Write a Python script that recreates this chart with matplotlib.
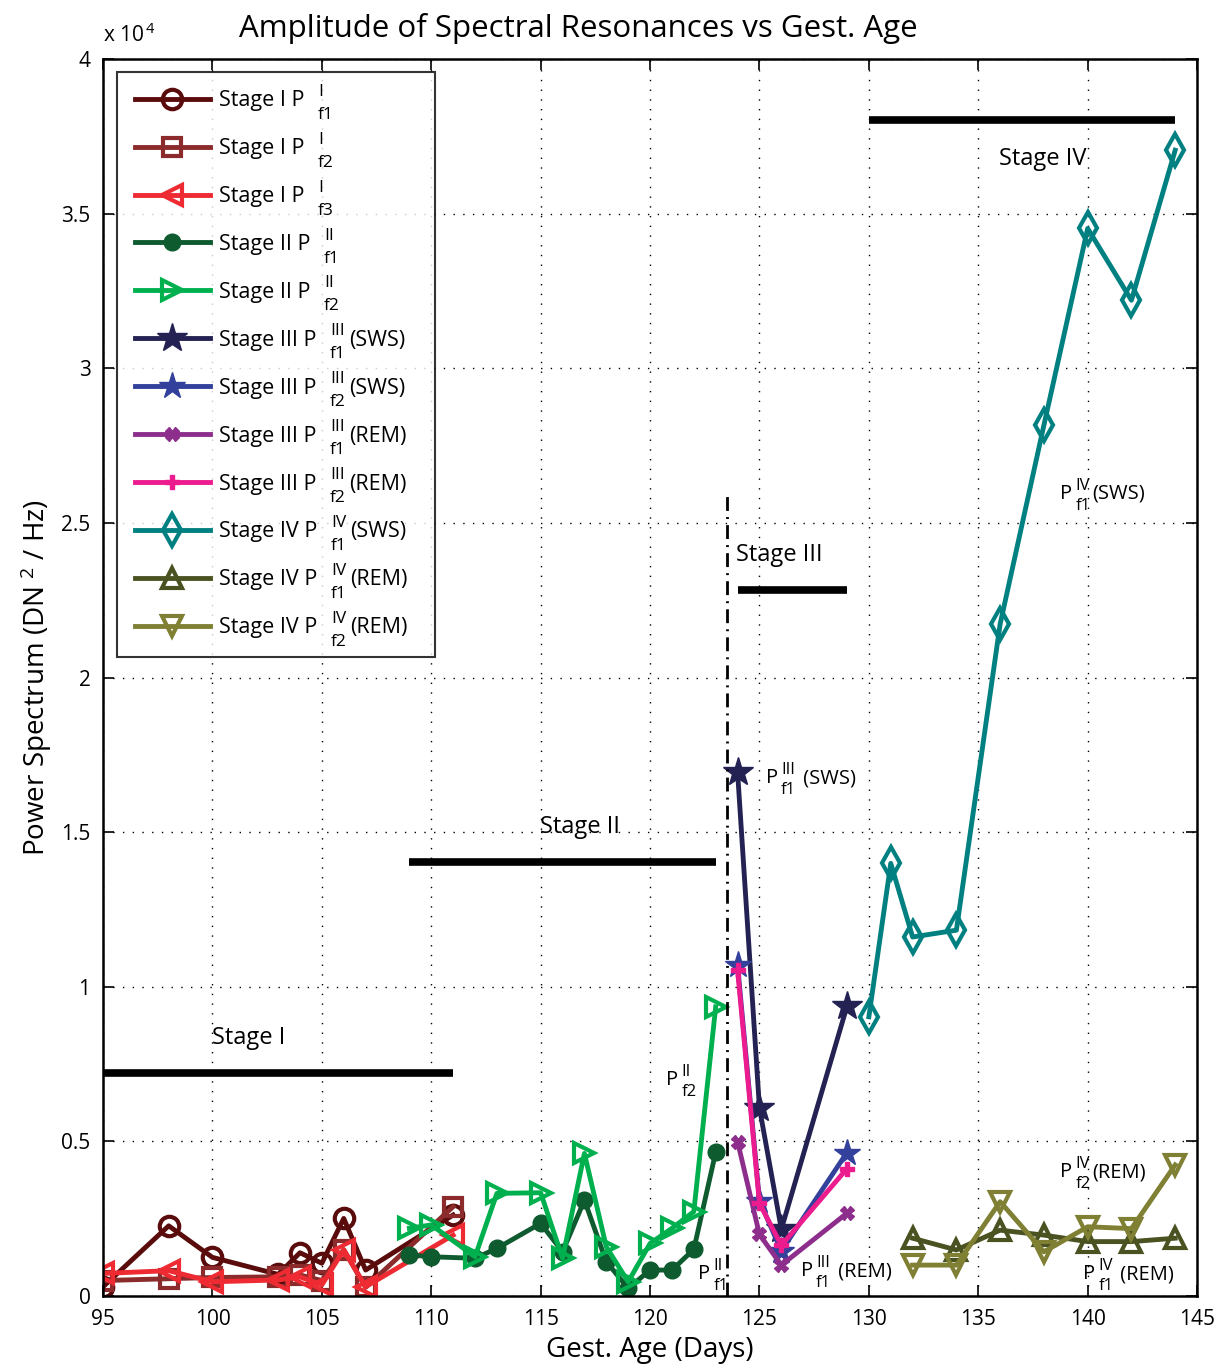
import numpy as np
import matplotlib
matplotlib.use('Agg')
import matplotlib.pyplot as plt
from matplotlib.ticker import FuncFormatter, MultipleLocator
from matplotlib.transforms import IdentityTransform

plt.rcParams['font.family'] = ['Open Sans', 'DejaVu Sans']
plt.rcParams['mathtext.fontset'] = 'custom'
plt.rcParams['mathtext.rm'] = 'Open Sans'
plt.rcParams['mathtext.it'] = 'Open Sans'

# Gestational age (days)
days_s1 = [95, 98, 100, 103, 104, 105, 106, 107, 111]
days_s2 = [109, 110, 112, 113, 115, 116, 117, 118, 119, 120, 121, 122, 123]
days_s3 = [124, 125, 126, 129]
days_s4_sws = [130, 131, 132, 134, 136, 138, 140, 142, 144]
days_s4_rem = [132, 134, 136, 138, 140, 142, 144]

# Power spectrum (DN^2/Hz)
s1_f1 = [300, 2270, 1250, 700, 1400, 1060, 2510, 840, 2620]
s1_f2 = [500, 560, 600, 620, 680, 500, 1500, 280, 2890]
s1_f3 = [730, 820, 460, 520, 620, 360, 1490, 300, 1970]
s2_f1 = [1330, 1270, 1220, 1540, 2350, 1430, 3100, 1110, 250, 840, 840, 1510, 4650]
s2_f2 = [2190, 2300, 1270, 3320, 3340, 1220, 4610, 1590, 460, 1700, 2190, 2730, 9350]
s3_f1_sws = [16940, 6080, 2160, 9370]
s3_f2_sws = [10700, 3080, 1460, 4640]
s3_f1_rem = [4990, 1990, 1000, 2680]
s3_f2_rem = [10530, 3000, 1640, 4120]
s4_f1_sws = [9030, 13990, 11610, 11830, 21730, 28160, 34520, 32200, 37050]
s4_f1_rem = [1870, 1490, 2130, 1970, 1760, 1760, 1870]
s4_f2_rem = [1000, 1000, 3050, 1430, 2240, 2180, 4240]

# stage bars: (start, end, level)
stage_bars = [(95, 111, 7210), (109, 123, 14030), (124, 129, 22830), (130, 144, 38020)]
stage_names = ['Stage I', 'Stage II', 'Stage III', 'Stage IV']
stage_text_pos = [(101.65, 8350), (116.8, 15170), (125.9, 23960), (137.95, 36760)]

fig = plt.figure(figsize=(12.21, 13.69), dpi=100)
ax = fig.add_axes([0.0844, 0.0533, 0.8960, 0.9036])

lw = 3.5
mew = 3

# (x, y, colour, marker, size, filled, base, sup, sub, suffix)
series = [
    (days_s1, s1_f1, '#5a0c0c', 'o', 14, False, 'Stage I P', 'I', 'f1', ''),
    (days_s1, s1_f2, '#8c2b2b', 's', 13, False, 'Stage I P', 'I', 'f2', ''),
    (days_s1, s1_f3, '#ee2b33', '<', 15, False, 'Stage I P', 'I', 'f3', ''),
    (days_s2, s2_f1, '#0d5b2f', 'o', 12, True, 'Stage II P', 'II', 'f1', ''),
    (days_s2, s2_f2, '#00b04f', '>', 15, False, 'Stage II P', 'II', 'f2', ''),
    (days_s3, s3_f1_sws, '#232252', '*', 22, True, 'Stage III P', 'III', 'f1', '(SWS)'),
    (days_s3, s3_f2_sws, '#33409c', '*', 20, True, 'Stage III P', 'III', 'f2', '(SWS)'),
    (days_s3, s3_f1_rem, '#8e2e8c', 'X', 10, True, 'Stage III P', 'III', 'f1', '(REM)'),
    (days_s3, s3_f2_rem, '#ec1b8e', 'P', 10, True, 'Stage III P', 'III', 'f2', '(REM)'),
    (days_s4_sws, s4_f1_sws, '#008080', 'd', 16, False, 'Stage IV P', 'IV', 'f1', '(SWS)'),
    (days_s4_rem, s4_f1_rem, '#4b5221', '^', 15, False, 'Stage IV P', 'IV', 'f1', '(REM)'),
    (days_s4_rem, s4_f2_rem, '#7f8033', 'v', 15, False, 'Stage IV P', 'IV', 'f2', '(REM)'),
]

for x, y, c, m, size, filled, base, sup, sub, suffix in series:
    # placeholder label reserves the width; real text is drawn on top later
    lab = base + '    ' + sub + suffix
    if filled:
        ax.plot(x, y, color=c, lw=lw, marker=m, ms=size, mfc=c, mec=c, mew=1, label=lab)
    else:
        ax.plot(x, y, color=c, lw=lw, marker=m, ms=size, mfc='none', mec=c, mew=mew, label=lab)

# stage bars and labels
for (x0, x1, lev), name, (tx, ty) in zip(stage_bars, stage_names, stage_text_pos):
    ax.plot([x0, x1], [lev, lev], color='black', lw=5.5, solid_capstyle='butt')
    ax.text(tx, ty, name, fontsize=17, ha='center', va='center')

# boundary between stage II and III
ax.plot([123.5, 123.5], [0, 26000], color='black', lw=2, linestyle=(0, (5, 2.2, 0.7, 2.2)))

ax.set_xlim(95, 145)
ax.set_ylim(0, 40000)
ax.xaxis.set_major_locator(MultipleLocator(5))
ax.yaxis.set_major_locator(MultipleLocator(5000))
ax.yaxis.set_major_formatter(FuncFormatter(lambda v, p: '%g' % (v / 1e4)))
ax.tick_params(direction='in', length=8, width=1.2, labelsize=15, top=True, right=True, pad=9)
ax.grid(True, color='black', linestyle=(0, (1, 6)), linewidth=1)
for sp in ax.spines.values():
    sp.set_linewidth(1.8)

ax.text(0.0, 1.010, r'x 10$^{\,4}$', transform=ax.transAxes, fontsize=15, ha='left', va='bottom')
ax.set_xlabel('Gest. Age (Days)', fontsize=20, labelpad=5)
ax.set_ylabel(r'Power Spectrum (DN $^{2}$ / Hz)', fontsize=20, labelpad=5)
fig.text(0.474, 0.979, 'Amplitude of Spectral Resonances vs Gest. Age', fontsize=22.5, ha='center', va='center')

leg = ax.legend(loc='upper left', bbox_to_anchor=(0.0128, 0.9895), borderaxespad=0, fontsize=15.5,
                handlelength=3.45, labelspacing=1.25, frameon=True, fancybox=False, edgecolor='black',
                borderpad=0.85, handletextpad=0.42)
leg.get_frame().set_linewidth(1.5)
for t in leg.get_texts():
    t.set_alpha(0)

fig.canvas.draw()
rend = fig.canvas.get_renderer()
ID = IdentityTransform()


def script_text(x, y, base, sup, sub, suffix, fs, sfs, gap, gap2, up, down):
    # MATLAB-style P^{sup}_{sub} with widely spaced scripts, in display pixels
    t = fig.text(x, y, base, fontsize=fs, ha='left', va='center', transform=ID)
    xs = t.get_window_extent(rend).x1 + gap
    a = fig.text(xs, y + up, sup, fontsize=sfs, ha='left', va='center', transform=ID)
    b = fig.text(xs, y - down, sub, fontsize=sfs, ha='left', va='center', transform=ID)
    xe = max(a.get_window_extent(rend).x1, b.get_window_extent(rend).x1) + gap2
    if suffix:
        fig.text(xe, y, suffix, fontsize=fs, ha='left', va='center', transform=ID)


# legend labels
for t, s in zip(leg.get_texts(), series):
    bb = t.get_window_extent(rend)
    script_text(bb.x0, (bb.y0 + bb.y1) / 2, s[6], s[7], s[8], s[9], 15.5, 12.5, 14, 3, 9, 14)

# curve annotations (data position of the P's left-centre)
ann = [
    (120.75, 7000, 'II', 'f2', ''),
    (122.2, 700, 'II', 'f1', ''),
    (125.3, 16750, 'III', 'f1', ' (SWS)'),
    (126.9, 800, 'III', 'f1', ' (REM)'),
    (138.75, 25950, 'IV', 'f1', '(SWS)'),
    (138.75, 4000, 'IV', 'f2', '(REM)'),
    (139.8, 700, 'IV', 'f1', ' (REM)'),
]
for tx, ty, sup, sub, suffix in ann:
    px, py = ax.transData.transform((tx, ty))
    script_text(px, py, 'P', sup, sub, suffix, 14.5, 12, 3, 2, 8, 12)

fig.savefig('out.png', dpi=100)
